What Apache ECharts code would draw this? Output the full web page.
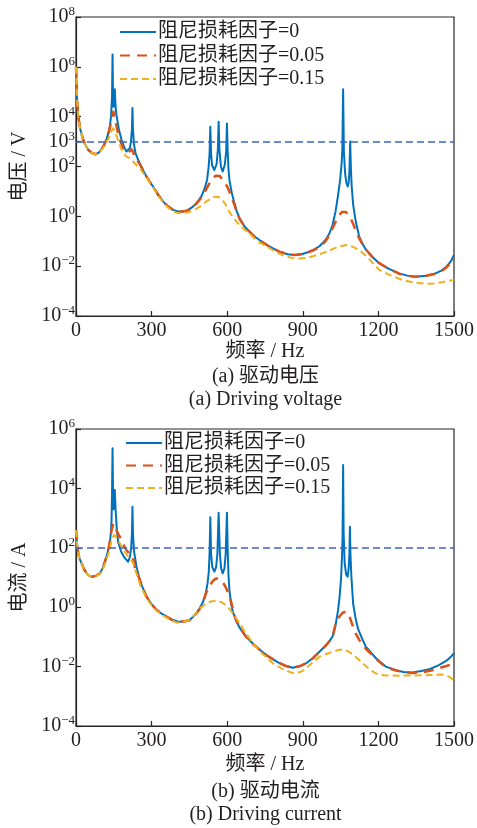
<!DOCTYPE html>
<html>
<head>
<meta charset="utf-8">
<script src="https://cdn.jsdelivr.net/npm/echarts@6/dist/echarts.min.js"></script>
<style>
html,body{margin:0;padding:0;background:#fff;}
#c{width:477px;height:828px;}
</style>
</head>
<body>
<div id="c"></div>
<script>
// ---------------- DATA ----------------
var seriesNames = ['阻尼损耗因子=0', '阻尼损耗因子=0.05', '阻尼损耗因子=0.15'];
var xTicks = [0, 300, 600, 900, 1200, 1500];
var yTicksVoltage = [1e-4, 1e-2, 1, 1e2, 1e3, 1e4, 1e6, 1e8];
var yTicksCurrent = [1e-4, 1e-2, 1, 1e2, 1e4, 1e6];
var voltageLimit = 1e3;
var currentLimit = 1e2;

// (a) Driving voltage (V), damping 0
var vFreq0 = [0, 4, 9, 18, 29, 40, 49, 62, 78, 93, 108, 120, 128, 134, 139, 143, 145, 147, 149, 151, 154, 157, 160, 170, 181, 192, 200, 206, 214, 218, 222, 224, 226, 230, 236, 245, 253, 265, 280, 292, 306, 325, 346, 365, 385, 405, 425, 445, 464, 480, 497, 510, 520, 526, 530, 533, 536, 540, 549, 558, 563, 566, 569, 575, 582, 590, 596, 599, 602, 605, 609, 618, 629, 638, 649, 668, 690, 710, 728, 765, 807, 840, 867, 895, 920, 945, 966, 990, 1005, 1018, 1030, 1040, 1048, 1054, 1057, 1060, 1063, 1068, 1073, 1078, 1082, 1085, 1088, 1091, 1094, 1100, 1110, 1124, 1137, 1150, 1175, 1203, 1240, 1282, 1315, 1348, 1390, 1427, 1450, 1470, 1488, 1500];
var vVal0 = [1e6, 5.01e4, 1e4, 2.82e3, 1.15e3, 661, 457, 355, 309, 380, 631, 1.12e3, 2.14e3, 3.98e3, 1e4, 6.31e4, 3.16e6, 6.31e4, 2.51e4, 3.98e4, 1.26e5, 2.51e4, 1.26e4, 3.16e3, 1.15e3, 562, 398, 355, 562, 1e3, 3.16e3, 2.24e4, 3.16e3, 794, 355, 200, 135, 74.1, 38.9, 25.1, 15.5, 7.59, 3.89, 2.51, 1.82, 1.58, 1.55, 1.78, 2.45, 3.55, 6.17, 12.6, 28.8, 89.1, 316, 3.98e3, 316, 112, 72.4, 126, 501, 6.31e3, 501, 100, 63.1, 112, 398, 5.37e3, 398, 79.4, 28.2, 8.91, 3.31, 1.58, 0.832, 0.398, 0.234, 0.151, 0.112, 0.0631, 0.038, 0.0302, 0.0282, 0.0302, 0.0363, 0.0468, 0.0631, 0.112, 0.2, 0.447, 1.58, 7.08, 28.2, 126, 501, 1.26e5, 398, 50.1, 22.4, 15.8, 22.4, 63.1, 1e3, 79.4, 15.8, 2.82, 0.631, 0.151, 0.0794, 0.0468, 0.024, 0.0132, 0.00794, 0.00513, 0.00417, 0.0038, 0.00417, 0.00513, 0.00661, 0.00955, 0.0158, 0.0282];

// (a) Driving voltage (V), damping 0.05
var vFreq05 = [0, 4, 9, 18, 29, 40, 49, 62, 78, 93, 108, 120, 128, 135, 141, 148, 155, 160, 167, 177, 187, 197, 207, 214, 220, 226, 233, 243, 253, 265, 280, 292, 306, 325, 346, 365, 385, 405, 425, 445, 464, 480, 497, 510, 520, 535, 545, 555, 562, 570, 580, 590, 600, 615, 629, 638, 649, 668, 690, 710, 728, 765, 807, 840, 867, 895, 920, 945, 966, 990, 1005, 1017, 1030, 1045, 1055, 1062, 1070, 1080, 1092, 1104, 1124, 1137, 1150, 1175, 1203, 1240, 1282, 1315, 1348, 1390, 1427, 1450, 1470, 1488, 1500];
var vVal05 = [1e6, 5.01e4, 1e4, 2.82e3, 1.15e3, 661, 457, 355, 309, 380, 631, 1.1e3, 1.9e3, 3.8e3, 8.5e3, 1.58e4, 9e3, 4.5e3, 2.14e3, 1e3, 537, 398, 355, 410, 490, 400, 245, 170, 126, 74.1, 38.9, 25.1, 15.5, 7.59, 3.89, 2.51, 1.82, 1.58, 1.55, 1.78, 2.4, 3.4, 5.62, 8.9, 14.1, 26, 35.5, 43, 44.7, 42, 31.6, 22, 15.8, 7.08, 2.82, 1.5, 0.794, 0.398, 0.234, 0.151, 0.112, 0.0631, 0.038, 0.0302, 0.0282, 0.0302, 0.0355, 0.0447, 0.0562, 0.1, 0.17, 0.316, 0.6, 1.12, 1.5, 1.6, 1.5, 1.2, 0.75, 0.389, 0.13, 0.075, 0.0468, 0.024, 0.0132, 0.00794, 0.005, 0.0041, 0.0038, 0.0041, 0.005, 0.0063, 0.0089, 0.0135, 0.0214];

// (a) Driving voltage (V), damping 0.15
var vFreq15 = [0, 4, 9, 18, 29, 40, 49, 62, 78, 93, 108, 120, 128, 135, 141, 148, 155, 161, 167, 177, 187, 200, 214, 224, 233, 243, 253, 265, 280, 292, 306, 325, 346, 365, 385, 405, 420, 445, 464, 480, 500, 515, 530, 545, 555, 565, 580, 595, 609, 625, 649, 668, 689, 720, 768, 800, 830, 860, 886, 915, 940, 970, 1005, 1040, 1071, 1095, 1124, 1160, 1203, 1250, 1295, 1340, 1388, 1420, 1450, 1480, 1500];
var vVal15 = [1e6, 5.01e4, 1e4, 2.82e3, 1.15e3, 661, 457, 355, 309, 370, 562, 900, 1.26e3, 1.9e3, 2.7e3, 3.39e3, 2.6e3, 1.7e3, 1.15e3, 600, 339, 250, 214, 170, 135, 105, 85.1, 58, 35.5, 23, 14.1, 7.08, 3.55, 2.24, 1.58, 1.35, 1.32, 1.45, 1.66, 2.1, 2.82, 3.8, 4.79, 5.8, 6.17, 6.0, 4.79, 2.8, 1.5, 0.85, 0.45, 0.3, 0.2, 0.1, 0.0525, 0.034, 0.0251, 0.021, 0.0204, 0.0214, 0.0251, 0.031, 0.042, 0.06, 0.0708, 0.062, 0.0447, 0.021, 0.00708, 0.0042, 0.00282, 0.0022, 0.00195, 0.002, 0.00224, 0.0026, 0.00282];

// (b) Driving current (A), damping 0
var iFreq0 = [0, 4, 9, 15, 22, 32, 42, 52, 62, 78, 95, 108, 121, 130, 135, 139, 141, 143, 145, 147, 149, 151, 154, 157, 162, 167, 180, 194, 207, 214, 219, 222, 224, 226, 230, 240, 255, 270, 280, 300, 319, 340, 359, 380, 405, 430, 451, 470, 491, 505, 515, 522, 527, 530, 533, 536, 541, 549, 556, 561, 566, 571, 576, 582, 589, 594, 599, 602, 605, 609, 615, 622, 635, 650, 675, 710, 755, 800, 830, 860, 890, 913, 940, 966, 990, 1005, 1018, 1030, 1040, 1046, 1052, 1056, 1058, 1060, 1062, 1066, 1072, 1078, 1082, 1085, 1087, 1089, 1093, 1100, 1110, 1120, 1135, 1150, 1190, 1229, 1270, 1300, 1335, 1370, 1405, 1440, 1470, 1490, 1500];
var iVal0 = [398, 141, 64.6, 41.7, 30.2, 19.1, 13.8, 11.5, 10.7, 11.2, 13.8, 22.4, 50.1, 100, 158, 398, 794, 6.31e3, 2.24e5, 6.31e3, 2e3, 3.16e3, 8.91e3, 2e3, 398, 158, 70.8, 44.7, 33.9, 50.1, 100, 316, 2.4e3, 316, 79.4, 22.9, 7.08, 3.55, 2.24, 1.26, 0.813, 0.603, 0.479, 0.38, 0.324, 0.331, 0.372, 0.525, 0.912, 1.58, 2.95, 6.31, 15.8, 63.1, 1.07e3, 63.1, 22.4, 15.8, 22.4, 63.1, 1.51e3, 63.1, 20, 13.8, 20, 63.1, 1.51e3, 79.4, 12.6, 3.55, 1.41, 0.708, 0.355, 0.2, 0.102, 0.0501, 0.0245, 0.0141, 0.0107, 0.00912, 0.0105, 0.0129, 0.0191, 0.0316, 0.0501, 0.0708, 0.102, 0.251, 0.794, 2.24, 10, 63.1, 316, 6.17e4, 316, 31.6, 12.6, 10.7, 20, 63.1, 513, 63.1, 10, 1.26, 0.398, 0.178, 0.0891, 0.0468, 0.0191, 0.01, 0.00759, 0.00661, 0.00631, 0.00708, 0.00832, 0.0112, 0.0158, 0.0224, 0.0282];

// (b) Driving current (A), damping 0.05
var iFreq05 = [0, 4, 9, 15, 22, 32, 42, 52, 62, 78, 95, 108, 121, 130, 135, 141, 148, 155, 160, 167, 174, 187, 200, 210, 220, 226, 233, 240, 250, 265, 280, 300, 319, 340, 359, 380, 405, 430, 451, 470, 491, 505, 515, 528, 540, 550, 558, 566, 575, 586, 596, 605, 615, 622, 630, 650, 675, 710, 755, 800, 830, 860, 890, 913, 940, 966, 990, 1005, 1018, 1031, 1045, 1058, 1071, 1085, 1097, 1110, 1124, 1135, 1150, 1190, 1229, 1270, 1300, 1335, 1370, 1405, 1440, 1470, 1500];
var iVal05 = [398, 141, 64.6, 41.7, 30.2, 19.1, 13.8, 11.5, 10.7, 11.2, 13.8, 22.4, 50.1, 105, 178, 380, 661, 520, 398, 300, 234, 130, 85.1, 65, 57.5, 45, 22.9, 16, 10, 4.5, 2.24, 1.26, 0.813, 0.603, 0.479, 0.38, 0.324, 0.331, 0.372, 0.51, 0.871, 1.6, 2.82, 4.8, 7.08, 8.6, 9.33, 9.0, 7.94, 6.2, 4.37, 2.8, 1.58, 0.9, 0.5, 0.2, 0.102, 0.0501, 0.0245, 0.0141, 0.0107, 0.00912, 0.0105, 0.0129, 0.0191, 0.0316, 0.05, 0.07, 0.1, 0.288, 0.479, 0.65, 0.708, 0.5, 0.251, 0.13, 0.0794, 0.058, 0.0398, 0.0185, 0.00955, 0.0074, 0.0065, 0.00603, 0.0064, 0.0072, 0.00891, 0.0105, 0.0126];

// (b) Driving current (A), damping 0.15
var iFreq15 = [0, 4, 9, 15, 22, 32, 42, 52, 62, 78, 95, 108, 121, 130, 135, 142, 150, 158, 166, 174, 190, 207, 218, 227, 235, 240, 255, 270, 280, 300, 319, 340, 359, 380, 400, 425, 451, 470, 491, 505, 517, 535, 557, 575, 596, 615, 630, 649, 675, 702, 740, 781, 820, 850, 873, 900, 920, 945, 966, 990, 1020, 1040, 1058, 1080, 1100, 1124, 1150, 1170, 1190, 1210, 1229, 1280, 1340, 1400, 1455, 1480, 1500];
var iVal15 = [398, 141, 64.6, 41.7, 30.2, 19.1, 13.8, 11.5, 10.7, 11, 13.2, 20, 39.8, 70, 100, 180, 269, 240, 180, 141, 80, 50.1, 40, 30.9, 18, 13.8, 5.5, 3.0, 2, 1.15, 0.759, 0.56, 0.447, 0.35, 0.302, 0.31, 0.38, 0.55, 0.89, 1.12, 1.35, 1.55, 1.66, 1.5, 1.17, 0.75, 0.5, 0.288, 0.13, 0.0603, 0.027, 0.0129, 0.0083, 0.0065, 0.00589, 0.0072, 0.01, 0.015, 0.0214, 0.026, 0.0316, 0.036, 0.038, 0.033, 0.025, 0.0166, 0.0105, 0.0074, 0.00589, 0.0052, 0.00501, 0.00495, 0.00501, 0.0052, 0.00537, 0.0046, 0.00355];

// ---------------- CHART ----------------
function pairs(f, v) { return f.map(function (x, i) { return [x, v[i]]; }); }

var FONT = "'Liberation Serif', 'Times New Roman', 'Noto Sans CJK SC', serif";
var TXT = '#231f20';
var AX = '#262626';
var colors = ['#0072BD', '#D95319', '#EDB120'];
var lineStyles = [
  { width: 2, type: 'solid' },
  { width: 2.5, type: [10, 7] },
  { width: 2, type: [7, 4] }
];

function yLabelFmt(v) {
  var e = Math.round(Math.log10(v));
  var s = e < 0 ? '\u2212' + (-e) : String(e);
  return '{b|10}{s|' + s + '}';
}

function xAxisCfg(gi, gap) {
  return {
    gridIndex: gi, type: 'value', min: 0, max: 1500, interval: 300,
    name: '频率 / Hz', nameLocation: 'middle', nameGap: gap,
    nameTextStyle: { fontFamily: FONT, fontSize: 20, color: TXT },
    axisLine: { show: true, lineStyle: { color: AX, width: 1.2 } },
    axisTick: { show: true, inside: true, length: 5, lineStyle: { color: AX, width: 1.2 } },
    axisLabel: { fontFamily: FONT, fontSize: 20, color: TXT, margin: 5,
      customValues: xTicks, formatter: function (v) { return String(v); } },
    splitLine: { show: false }
  };
}

function yAxisCfg(gi, name, min, max, ticks) {
  return {
    gridIndex: gi, type: 'log', logBase: 10, min: min, max: max,
    name: name, nameLocation: 'middle', nameGap: 46, nameRotate: 90,
    nameTextStyle: { fontFamily: FONT, fontSize: 20, color: TXT },
    axisLine: { show: true, lineStyle: { color: AX, width: 1.2 } },
    axisTick: { show: true, inside: true, length: 5, lineStyle: { color: AX, width: 1.2 }, customValues: ticks },
    axisLabel: {
      customValues: ticks, margin: 1, formatter: yLabelFmt,
      rich: {
        b: { fontFamily: FONT, fontSize: 20, color: TXT, lineHeight: 24 },
        s: { fontFamily: FONT, fontSize: 13, color: TXT, lineHeight: 14, verticalAlign: 'top' }
      }
    },
    splitLine: { show: false }
  };
}

function mkSeries(gi, freqs, vals, idx, limit) {
  var s = {
    name: seriesNames[idx], type: 'line', xAxisIndex: gi, yAxisIndex: gi,
    data: pairs(freqs, vals), symbol: 'none', showSymbol: false, smooth: false,
    animation: false, color: colors[idx],
    lineStyle: { color: colors[idx], width: lineStyles[idx].width, type: lineStyles[idx].type, join: 'round' },
    z: 2 + idx
  };
  if (limit !== undefined) {
    s.markLine = {
      silent: true, symbol: 'none', animation: false,
      label: { show: false },
      lineStyle: { color: '#3a66c4', width: 1.5, type: [7, 4] },
      data: [{ yAxis: limit }]
    };
  }
  return s;
}

function legendCfg(left, top, gap) {
  return {
    orient: 'vertical', left: left, top: top, padding: 0,
    itemWidth: 36, itemHeight: 14, itemGap: gap, selectedMode: false,
    data: seriesNames,
    itemStyle: { opacity: 0 },
    textStyle: { fontFamily: FONT, fontSize: 20, color: TXT, lineHeight: 20, padding: [0, 0, 0, -3] }
  };
}

var chart = echarts.init(document.getElementById('c'), null, { renderer: 'canvas' });
chart.setOption({
  backgroundColor: '#ffffff',
  animation: false,
  grid: [
    { left: 76, top: 17, width: 379, height: 299, show: true, borderColor: AX, borderWidth: 1.2, backgroundColor: 'transparent' },
    { left: 76, top: 429, width: 379, height: 297, show: true, borderColor: AX, borderWidth: 1.2, backgroundColor: 'transparent' }
  ],
  xAxis: [xAxisCfg(0, 26), xAxisCfg(1, 29)],
  yAxis: [
    yAxisCfg(0, '电压 / V', 1e-4, 1e8, yTicksVoltage),
    yAxisCfg(1, '电流 / A', 1e-4, 1e6, yTicksCurrent)
  ],
  legend: [legendCfg(119, 22, 3.5), legendCfg(125, 433, 2.5)],
  series: [
    mkSeries(0, vFreq0, vVal0, 0, voltageLimit),
    mkSeries(0, vFreq05, vVal05, 1),
    mkSeries(0, vFreq15, vVal15, 2),
    mkSeries(1, iFreq0, iVal0, 0, currentLimit),
    mkSeries(1, iFreq05, iVal05, 1),
    mkSeries(1, iFreq15, iVal15, 2)
  ],
  graphic: [
    { type: 'text', x: 265.5, y: 377, style: { text: '(a) 驱动电压', font: "20px " + FONT, fill: TXT, textAlign: 'center', textVerticalAlign: 'middle' } },
    { type: 'text', x: 265.5, y: 400, style: { text: '(a) Driving voltage', font: "20px " + FONT, fill: TXT, textAlign: 'center', textVerticalAlign: 'middle' } },
    { type: 'text', x: 265.5, y: 792, style: { text: '(b) 驱动电流', font: "20px " + FONT, fill: TXT, textAlign: 'center', textVerticalAlign: 'middle' } },
    { type: 'text', x: 265.5, y: 815, style: { text: '(b) Driving current', font: "20px " + FONT, fill: TXT, textAlign: 'center', textVerticalAlign: 'middle' } }
  ]
});
</script>
</body>
</html>
